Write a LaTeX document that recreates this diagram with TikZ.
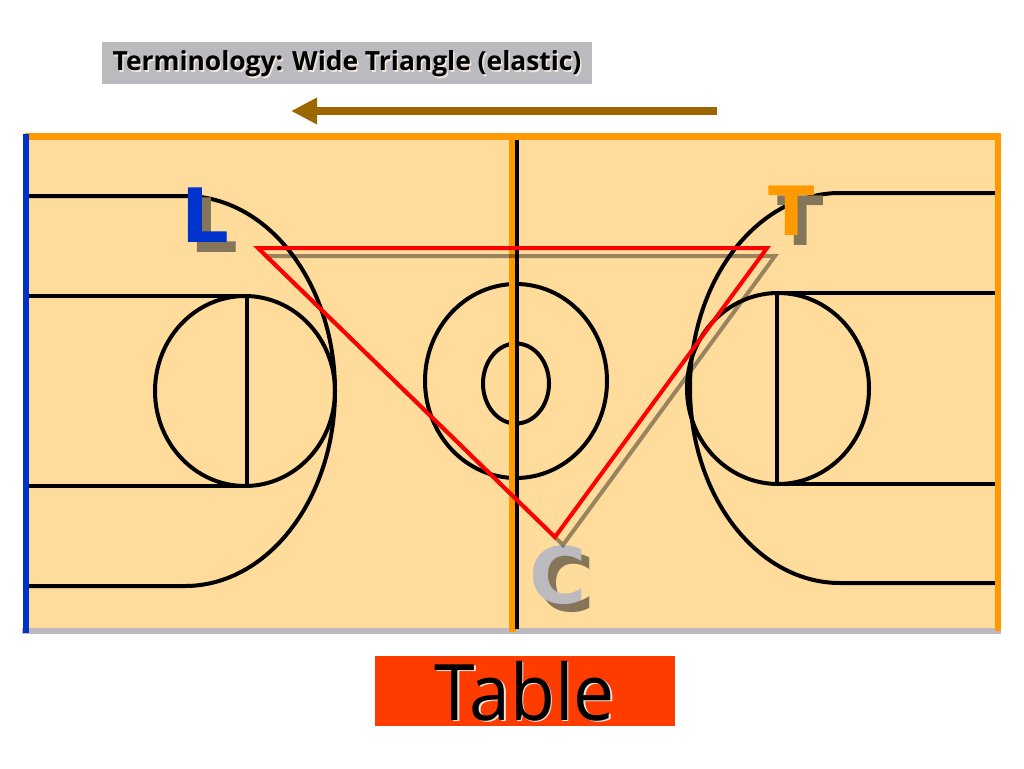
\documentclass[tikz,border=0pt]{standalone}
\usepackage{fontspec}
\setmainfont{Open Sans}
\newfontfamily\letterfont{DejaVu Sans}
\newfontfamily\tablefamily[FakeStretch=.94]{Open Sans}
\usetikzlibrary{arrows.meta}
\definecolor{courtfill}{HTML}{FFDC9C}
\definecolor{lineorange}{HTML}{FF9900}
\definecolor{lineblue}{HTML}{0033CC}
\definecolor{linegray}{HTML}{BBBBBF}
\definecolor{arrowbrown}{HTML}{9C6600}
\definecolor{tablered}{HTML}{FF3C00}
\definecolor{lettershadow}{HTML}{85755A}
\definecolor{textshade}{HTML}{F0E8E0}
\begin{document}
\begin{tikzpicture}[x=1pt, y=-1pt, >=stealth]
        \tikzstyle{court}=[line width=4pt, black]
        \tikzstyle{edge}=[line width=6.5pt]
        \tikzstyle{player}=[inner sep=0pt, font=\letterfont\bfseries]
        \tikzstyle{shade}=[player, text=lettershadow]
        \tikzstyle{tri}=[line width=4pt, line join=miter]
        \tikzstyle{titlefont}=[inner sep=0pt, font=\fontsize{26.4}{26.4}\selectfont\bfseries]
        \tikzstyle{tablefont}=[inner sep=0pt, font=\tablefamily\fontsize{78}{78}\selectfont]

        \useasboundingbox (0,0) rectangle (1024,768);

        \fill[courtfill] (25,136) rectangle (998,631);

        \draw[court] (25,196) -- (185,196) arc[start angle=90, end angle=-90, x radius=150pt, y radius=195pt] -- (25,586);
        \draw[court] (25,296) -- (247,296);
        \draw[court] (25,486) -- (247,486);
        \draw[court] (247,296) -- (247,486);
        \draw[court] (245,391) ellipse[x radius=90, y radius=95];

        \draw[court] (998,193) -- (840,193) arc[start angle=90, end angle=270, x radius=150pt, y radius=195pt] -- (998,583);
        \draw[court] (998,293) -- (777,293);
        \draw[court] (998,484) -- (777,484);
        \draw[court] (777,293) -- (777,484);
        \draw[court] (778,388.5) ellipse[x radius=91, y radius=95.5];

        \draw[court] (516,381) ellipse[x radius=91, y radius=97];
        \draw[court] (516,383.5) ellipse[x radius=33, y radius=40];

        \draw[edge, linegray] (22,631) -- (1001,631);
        \draw[line width=7pt, lineorange] (512.5,136) -- (512.5,632);
        \draw[line width=3.4pt, black] (517,140) -- (517,629);
        \draw[edge, lineorange] (25,136.5) -- (1001,136.5);
        \draw[edge, lineblue] (26,134) -- (26,633);
        \draw[edge, lineorange] (998,136) -- (998,631);

        \node[shade, font=\letterfont\bfseries\fontsize{75}{75}\selectfont](Ls) at (214,225.5){L};
        \node[shade, font=\letterfont\bfseries\fontsize{68}{68}\selectfont](Ts) at (800.5,221){T};
        \node[shade, font=\letterfont\bfseries\fontsize{78}{78}\selectfont](Cs) at (566,583){C};
        \node[player, text=lineblue, font=\letterfont\bfseries\fontsize{75}{75}\selectfont](L) at (205,215.5){L};
        \node[player, text=lineorange, font=\letterfont\bfseries\fontsize{68}{68}\selectfont](T) at (791.5,211){T};
        \node[player, text=linegray, font=\letterfont\bfseries\fontsize{78}{78}\selectfont](C) at (558,575){C};

        \coordinate (a) at (258,248);
        \coordinate (b) at (767,248);
        \coordinate (c) at (555,537);
        \coordinate (as) at (266,256);
        \coordinate (bs) at (775,256);
        \coordinate (cs) at (563,545);
        \draw[tri, black, opacity=.4] (as) -- (bs) -- (cs) -- cycle;
        \draw[tri, red] (a) -- (b) -- (c) -- cycle;

        \coordinate (start) at (717,111);
        \coordinate (end) at (291,111);
        \draw[-{Triangle[length=26pt, width=25pt]}, line width=8pt, arrowbrown] (start) -- (end);

        \node[fill=linegray, minimum width=490pt, minimum height=42pt, inner sep=0pt](titlebox) at (347,63){};
        \node[titlefont, text=textshade](titleshade) at (348.5,65.5){Terminology: Wide Triangle (elastic)};
        \node[titlefont](title) at (347,64){Terminology: Wide Triangle (elastic)};

        \node[fill=tablered, minimum width=300pt, minimum height=70pt, inner sep=0pt](tablebox) at (525,691){};
        \node[tablefont, text=textshade](tableshade) at (526.5,692.5){Table};
        \node[tablefont](table) at (525,691){Table};
\end{tikzpicture}
\end{document}
